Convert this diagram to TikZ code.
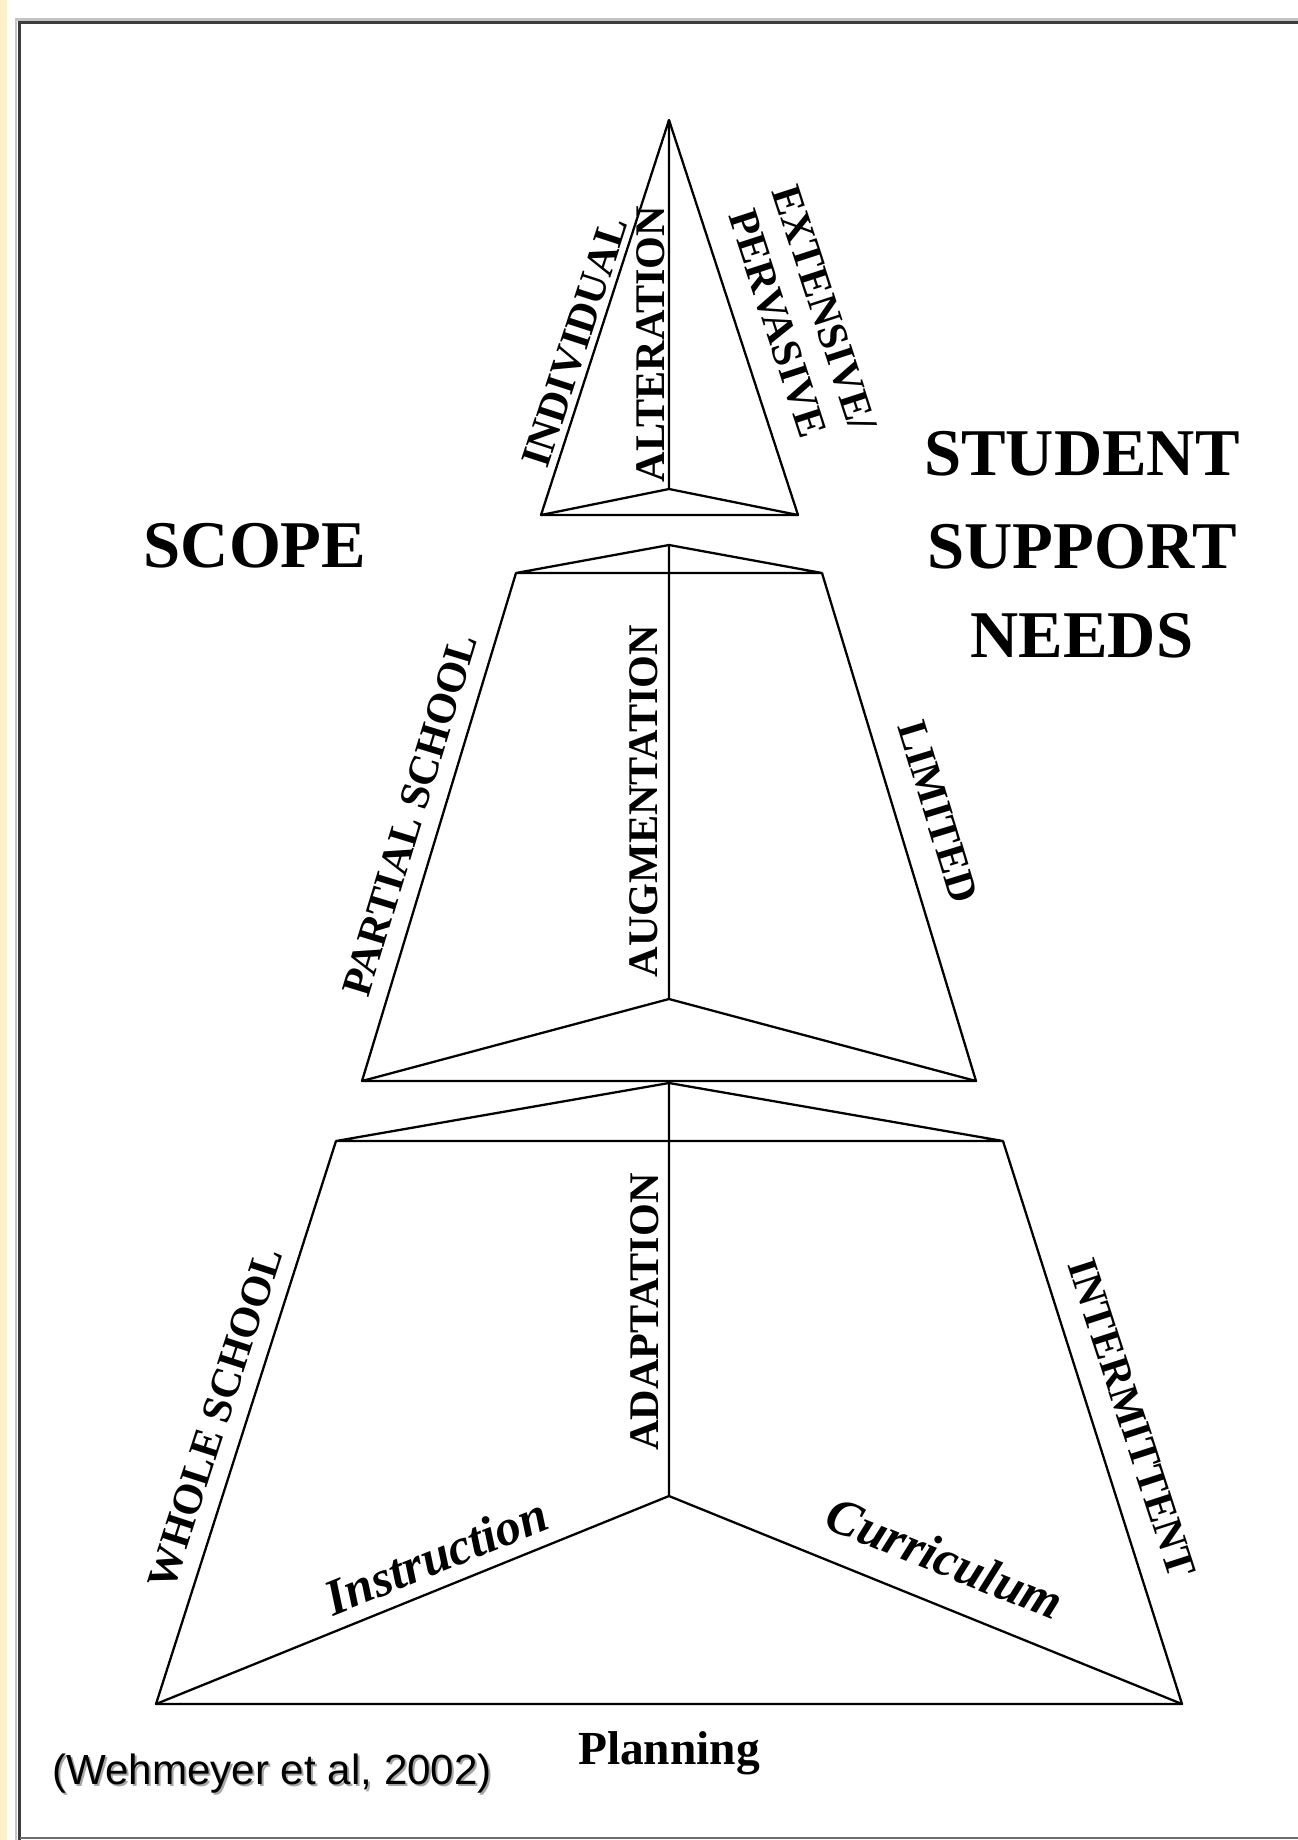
\documentclass[tikz,border=0pt]{standalone}
\usepackage{fontspec}
\setmainfont{Liberation Serif}
\newfontfamily\arialfont{Liberation Sans}
\definecolor{framegray}{HTML}{3C3C3C}
\definecolor{framelight}{HTML}{C4C4C4}
\definecolor{pageyellow}{HTML}{FFF1C6}
\begin{document}
\begin{tikzpicture}[x=0.02cm, y=-0.02cm,
    edge/.style={black, line width=1.3pt, line join=round},
    sidelabel/.style={font=\fontsize{24}{28}\selectfont\bfseries, inner sep=0pt},
    facelabel/.style={font=\fontsize{29}{30}\selectfont\bfseries\itshape, inner sep=0pt},
    bigtitle/.style={font=\fontsize{38}{46}\selectfont\bfseries, anchor=base, inner sep=0pt}]
    \useasboundingbox (0,0) rectangle (1298,1840);
    % slide frame
    \fill[white] (0,0) rectangle (1298,1840);
    \fill[pageyellow] (0,0) rectangle (7,1840);
    \draw[framelight, line width=1.2pt] (16,1840) -- (16,19.5) -- (1298,19.5);
    \draw[framegray, line width=1.6pt] (19.5,1840) -- (19.5,22.5) -- (1298,22.5);
    \draw[framegray!75, line width=1.6pt] (19.5,1838) -- (1298,1838);

    % top section (triangle)
    \coordinate (tA) at (669,120);
    \coordinate (tL) at (541,515);
    \coordinate (tR) at (798,515);
    \coordinate (tC) at (669,489);
    \draw[edge] (tL) -- (tA) -- (tR) -- cycle;
    \draw[edge] (tL) -- (tC) -- (tR) (tA) -- (tC);

    % middle section
    \coordinate (mA) at (669,545);
    \coordinate (mTL) at (516,573);
    \coordinate (mTR) at (822,573);
    \coordinate (mBL) at (362,1081);
    \coordinate (mBR) at (976,1081);
    \coordinate (mC) at (669,999);
    \draw[edge] (mTL) -- (mA) -- (mTR) -- cycle;
    \draw[edge] (mTL) -- (mBL) -- (mBR) -- (mTR);
    \draw[edge] (mBL) -- (mC) -- (mBR) (mA) -- (mC);

    % bottom section
    \coordinate (bA) at (669,1083);
    \coordinate (bTL) at (336,1141);
    \coordinate (bTR) at (1003,1141);
    \coordinate (bBL) at (156,1704);
    \coordinate (bBR) at (1182,1704);
    \coordinate (bC) at (669,1496);
    \draw[edge] (bTL) -- (bA) -- (bTR) -- cycle;
    \draw[edge] (bTL) -- (bBL) -- (bBR) -- (bTR);
    \draw[edge] (bBL) -- (bC) -- (bBR) (bA) -- (bC);

    % labels on the edges
    \node[sidelabel, rotate=72] (individual) at (575,342) {INDIVIDUAL};
    \node[sidelabel, rotate=90] (alteration) at (651,344) {ALTERATION};
    \node[sidelabel, rotate=-72, align=center, font=\fontsize{24}{28}\selectfont\bfseries] (extensive) at (801,316) {EXTENSIVE/\\PERVASIVE};
    \node[sidelabel, rotate=73] (partial) at (410,815) {PARTIAL SCHOOL};
    \node[sidelabel, rotate=90] (augmentation) at (644,801) {AUGMENTATION};
    \node[sidelabel, rotate=-73] (limited) at (938,812) {LIMITED};
    \node[sidelabel, rotate=72] (whole) at (215,1418) {WHOLE SCHOOL};
    \node[sidelabel, rotate=90] (adaptation) at (645,1312) {ADAPTATION};
    \node[sidelabel, rotate=-72] (intermittent) at (1132,1418) {INTERMITTENT};
    \node[facelabel, rotate=22] (instruction) at (436,1556) {Instruction};
    \node[facelabel, rotate=-22] (curriculum) at (945,1558) {Curriculum};
    \node[font=\fontsize{27}{30}\selectfont\bfseries, anchor=base, inner sep=0pt] (planning) at (669,1764) {Planning};

    % titles
    \node[bigtitle] (scope) at (255,567) {SCOPE};
    \node[bigtitle] (student) at (1082,475) {STUDENT};
    \node[bigtitle] (support) at (1082,568) {SUPPORT};
    \node[bigtitle] (needs) at (1082,657) {NEEDS};

    % source
    \node[font=\arialfont\fontsize{24}{28}\selectfont, text=black!35, anchor=base, inner sep=0pt] at (274,1786) {(Wehmeyer et al, 2002)};
    \node[font=\arialfont\fontsize{24}{28}\selectfont, anchor=base, inner sep=0pt] (source) at (272,1784) {(Wehmeyer et al, 2002)};
\end{tikzpicture}
\end{document}
